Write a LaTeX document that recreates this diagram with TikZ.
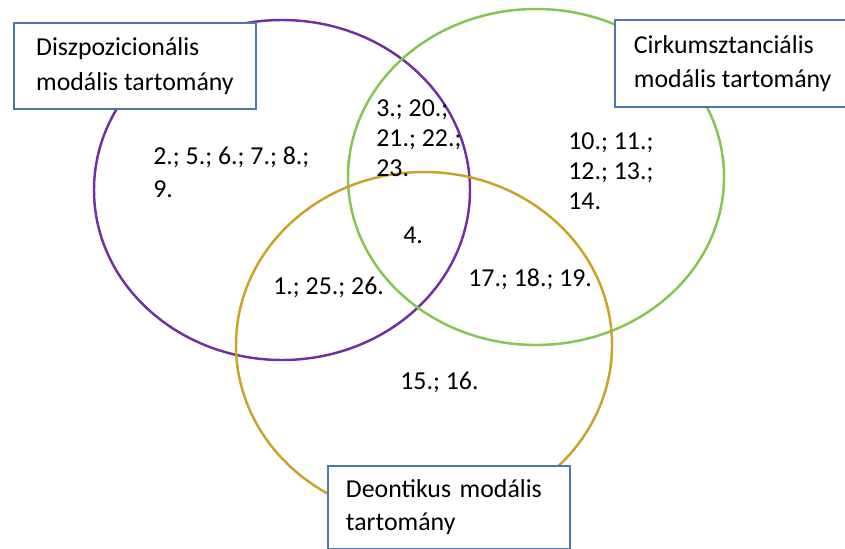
\documentclass[tikz,border=0pt]{standalone}
\usepackage{fontspec}
\setmainfont{Carlito}
\usepackage{tikz}
\definecolor{dpurple}{HTML}{7030A0}
\definecolor{cgreen}{HTML}{84C450}
\definecolor{dgold}{HTML}{C9A227}
\definecolor{boxblue}{HTML}{4A78AE}
\tikzset{
  ring/.style={line width=1.4pt},
  label box/.style={draw=boxblue,line width=1.1pt,fill=white,anchor=north west,
    align=left,inner xsep=0.4cm,font=\fontsize{14.7}{19.6}\selectfont},
  items/.style={anchor=west,inner sep=0pt,align=left,font=\fontsize{14.7}{17.2}\selectfont}
}
\begin{document}
\begin{tikzpicture}[x=0.02cm,y=-0.02cm]
\useasboundingbox (0,0) rectangle (845,548);
\begin{scope}
\clip (0,0) rectangle (845,548);
% the three domains
\draw[ring,dpurple] (282,190) ellipse [x radius=188,y radius=170];
\draw[ring,cgreen] (536,177) ellipse [x radius=188,y radius=168];
\draw[ring,dgold] (424,345) ellipse [x radius=188,y radius=173];
% labels of the domains
\node[label box,minimum width=4.84cm,minimum height=1.72cm] (disp) at (13,22) {Diszpozicionális\\modális tartomány};
\node[label box,minimum width=4.58cm,minimum height=1.74cm,inner xsep=0.38cm] (circ) at (614,19) {Cirkumsztanciális\\modális tartomány};
\node[label box,inner xsep=0.36cm,inner ysep=0.28cm,text width=4.12cm,
  font=\fontsize{14.7}{18.8}\selectfont] (deon) at (327,465) {Deontikus modális\\tartomány};
\end{scope}
% the items
\node[items,font=\fontsize{14.7}{18.8}\selectfont] (dOnly) at (153,172) {2.; 5.; 6.; 7.; 8.;\\9.};
\node[items] (dc) at (376,138) {3.; 20.;\\21.; 22.;\\23.};
\node[items] (cOnly) at (568,171) {10.; 11.;\\12.; 13.;\\14.};
\node[items] (all) at (403,235) {4.};
\node[items] (dd) at (273,287) {1.; 25.; 26.};
\node[items] (cd) at (468,279) {17.; 18.; 19.};
\node[items] (deOnly) at (400,382) {15.; 16.};
\end{tikzpicture}
\end{document}
